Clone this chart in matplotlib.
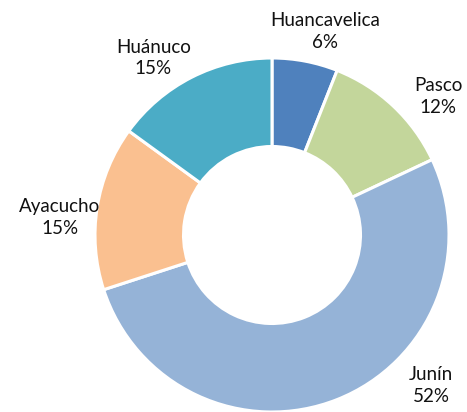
import matplotlib
matplotlib.use("Agg")
from matplotlib import pyplot as plt

# data
regions = ["Huancavelica", "Pasco", "Junín", "Ayacucho", "Huánuco"]
shares = [6, 12, 52, 15, 15]
colors = ["#4F81BD", "#C3D69B", "#95B3D7", "#FAC090", "#4BACC6"]

# label centres (axis units, radius = 1)
label_pos = [(0.30, 1.15), (0.94, 0.785), (0.90, -0.85), (-1.20, 0.10), (-0.67, 1.0)]

plt.rcParams['font.family'] = ['Lato', 'DejaVu Sans']

fig = plt.figure(figsize=(4.67, 4.12), dpi=100)
ax = fig.add_axes([0, 0, 1, 1])

cx, cy, r = 272, 235, 177
ax.pie(shares, colors=colors, startangle=90, counterclock=False,
       radius=1.0, wedgeprops=dict(width=0.5, edgecolor="white", linewidth=2.2))

for name, val, (x, y) in zip(regions, shares, label_pos):
    ax.text(x, y, f"{name}\n{val}%", ha="center", va="center", fontsize=13.5,
            color="#111111", linespacing=1.35)

ax.set_xlim(-cx / r, (467 - cx) / r)
ax.set_ylim(-(412 - cy) / r, cy / r)
ax.set_aspect("equal")
ax.axis("off")

fig.savefig("out.png", dpi=100)
